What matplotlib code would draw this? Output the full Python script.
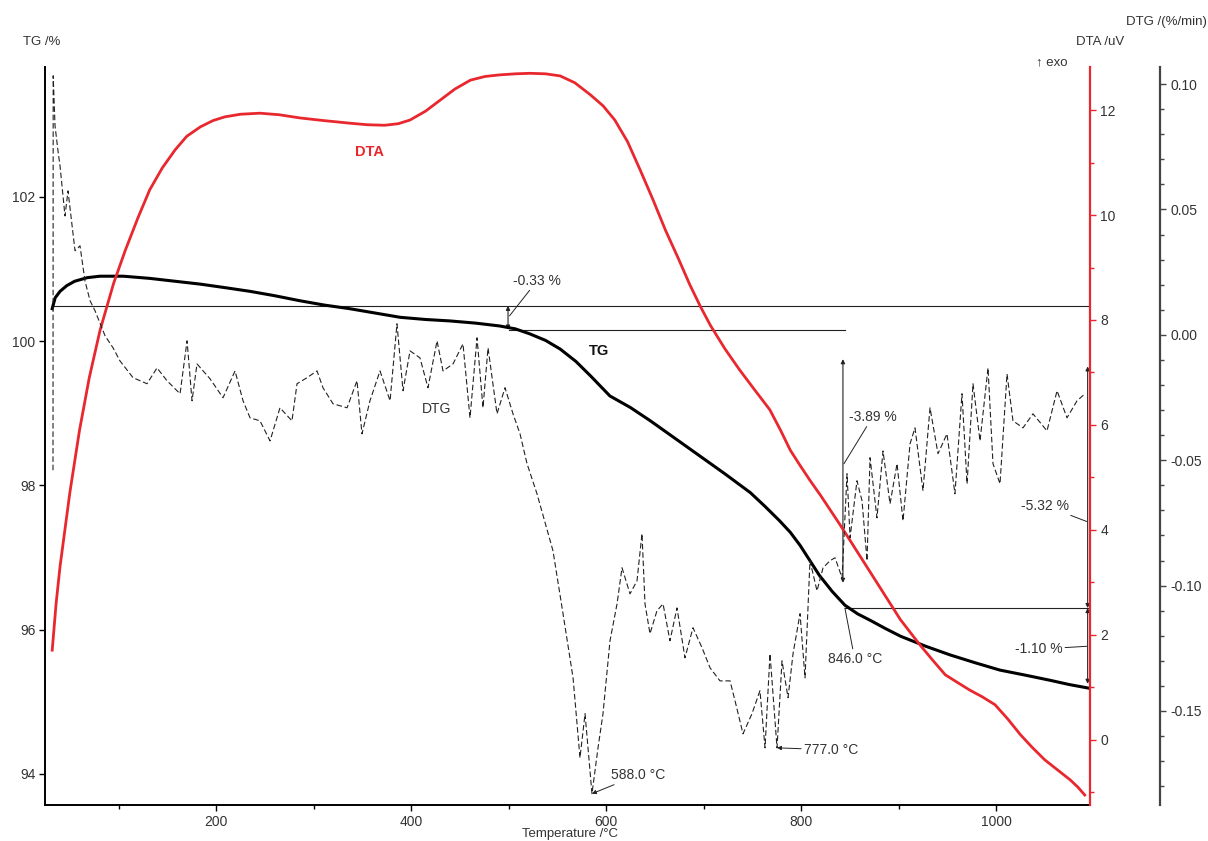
import numpy as np
import matplotlib
matplotlib.use("Agg")
import matplotlib.pyplot as plt
from matplotlib.ticker import MultipleLocator

plt.rcParams['font.family'] = ['Liberation Sans', 'DejaVu Sans']

# ---------------- data ----------------
tg_T = [32, 35, 40, 47, 55, 68, 81, 105, 132, 158, 184, 210, 235, 260, 286, 311, 337, 363,
        389, 415, 440, 466, 491, 507, 522, 538, 553, 569, 584, 594, 604, 625, 645, 670, 696,
        722, 748, 763, 778, 789, 799, 809, 819, 832, 845, 858, 871, 886, 902, 928, 953, 979,
        1004, 1030, 1055, 1075, 1095]
tg_val = [100.45, 100.60, 100.69, 100.77, 100.83, 100.88, 100.90, 100.90, 100.87, 100.83,
          100.79, 100.74, 100.69, 100.63, 100.56, 100.50, 100.45, 100.39, 100.33, 100.30,
          100.28, 100.25, 100.21, 100.17, 100.10, 100.01, 99.89, 99.72, 99.52, 99.38, 99.24,
          99.08, 98.90, 98.66, 98.41, 98.16, 97.90, 97.71, 97.51, 97.35, 97.17, 96.96, 96.75,
          96.53, 96.34, 96.22, 96.13, 96.02, 95.91, 95.77, 95.65, 95.54, 95.44, 95.37, 95.30,
          95.24, 95.19]

dta_T = [32, 36, 40, 45, 50, 60, 70, 81, 95, 107, 120, 132, 145, 158, 170, 184, 197, 209,
         225, 245, 265, 286, 310, 337, 355, 373, 387, 399, 415, 430, 445, 461, 476, 491, 507,
         522, 538, 553, 568, 584, 597, 609, 622, 635, 648, 661, 674, 686, 697, 707, 722, 737,
         752, 768, 779, 789, 799, 809, 820, 830, 840, 850, 863, 876, 889, 902, 912, 922, 935,
         948, 960, 973, 986, 999, 1012, 1025, 1037, 1050, 1063, 1076, 1084, 1091]
dta_val = [1.71, 2.60, 3.30, 4.00, 4.70, 5.90, 6.90, 7.80, 8.70, 9.33, 9.95, 10.48, 10.90,
           11.24, 11.50, 11.68, 11.80, 11.87, 11.92, 11.94, 11.91, 11.85, 11.80, 11.75, 11.72,
           11.71, 11.74, 11.81, 11.98, 12.19, 12.40, 12.57, 12.64, 12.67, 12.69, 12.70, 12.69,
           12.65, 12.52, 12.29, 12.08, 11.81, 11.40, 10.86, 10.30, 9.71, 9.18, 8.67, 8.25,
           7.90, 7.45, 7.05, 6.68, 6.29, 5.90, 5.52, 5.23, 4.95, 4.66, 4.38, 4.10, 3.81, 3.43,
           3.05, 2.67, 2.29, 2.05, 1.81, 1.52, 1.24, 1.10, 0.95, 0.82, 0.67, 0.40, 0.10, -0.14,
           -0.38, -0.57, -0.76, -0.90, -1.05]

dtg_T = [32.8, 33.0, 34.9, 37.9, 40.0, 45.1, 48.2, 55.4, 60.5, 65.6, 70.8, 75.9, 86.2, 94.4,
         101.5, 114.9, 129.2,
         139.5, 149.7, 163.1, 170.3, 175.4, 180.5, 193.8, 207.2, 219.5, 227.7, 234.9, 245.1,
         255.4, 265.6, 277.9, 283.1, 293.3, 303.6, 309.7, 320.0, 334.4, 344.6, 349.7, 357.9,
         368.2, 378.5, 385.6, 391.8, 399.0, 409.2, 417.4, 426.7, 432.8, 443.1, 453.3, 460.5,
         467.7, 473.8, 479.0, 488.2, 496.4, 504.6, 511.8, 519.0, 529.2, 545.6, 555.9, 566.2,
         573.3, 578.5, 585.6, 591.8, 596.9, 604.1, 611.3, 616.4, 624.6, 631.8, 636.9, 640.0,
         645.1, 652.3, 658.5, 665.6, 672.8, 681.0, 689.2, 698.5, 706.7, 716.9, 727.2, 732.3,
         740.5, 749.7, 757.9, 763.1, 768.2, 775.4, 780.5, 786.7, 791.8, 799.0, 804.1, 809.2,
         816.4, 822.6, 829.7, 834.9, 842.1, 847.2, 850.3, 857.4, 862.6, 867.7, 870.8, 877.9,
         884.1, 891.3, 898.5, 904.6, 911.8, 916.9, 925.1, 932.3, 940.5, 949.7, 957.9, 965.1,
         970.3, 976.4, 983.6, 991.8, 996.9, 1004.1, 1011.3, 1017.4, 1027.7, 1037.9, 1052.3,
         1062.6, 1072.8, 1083.1, 1091.3]
dtg_val = [-0.054, 0.1033, 0.0833, 0.0734, 0.0674, 0.0474, 0.0574, 0.0335, 0.0355, 0.0215,
           0.0136, 0.0096, -0.0004, -0.0052,
           -0.0104, -0.0171, -0.0195, -0.0132, -0.0183, -0.0235, -0.0024, -0.0263, -0.0116,
           -0.0175, -0.0251, -0.0144, -0.0263, -0.0331, -0.0343, -0.0423, -0.0291, -0.0343,
           -0.0195, -0.0171, -0.0144, -0.0211, -0.0275, -0.0291, -0.0183, -0.0395, -0.0263,
           -0.0144, -0.0263, 0.0044, -0.0223, -0.0064, -0.0092, -0.0211, -0.0024, -0.0144,
           -0.0116, -0.0036, -0.0331, -0.0012, -0.0291, -0.0052, -0.0315, -0.0211, -0.0315,
           -0.0395, -0.0514, -0.0634, -0.0861, -0.1112, -0.1368, -0.1687, -0.1511, -0.1830,
           -0.1647, -0.1511, -0.1220, -0.1073, -0.0929, -0.1033, -0.0981, -0.0793, -0.1073,
           -0.1192, -0.1100, -0.1073, -0.1220, -0.1089, -0.1288, -0.1168, -0.1248, -0.1328,
           -0.1380, -0.1380, -0.1459, -0.1591, -0.1511, -0.1419, -0.1647, -0.1272, -0.1647,
           -0.1300, -0.1447, -0.1272, -0.1112, -0.1368, -0.0901, -0.1021, -0.0929, -0.0901,
           -0.0889, -0.0969, -0.0554, -0.0809, -0.0582, -0.0662, -0.0901, -0.0490, -0.0730,
           -0.0463, -0.0674, -0.0514, -0.0742, -0.0435, -0.0371, -0.0622, -0.0291, -0.0474,
           -0.0395, -0.0634, -0.0235, -0.0594, -0.0195, -0.0423, -0.0132, -0.0514, -0.0594,
           -0.0156, -0.0343, -0.0371, -0.0315, -0.0383, -0.0223, -0.0331, -0.0263, -0.0235]

# step levels (TG %) and step annotations
level_hi = 100.49
level_mid = 100.16
level_lo = 96.30
steps = ["-0.33 %", "-3.89 %", "-5.32 %", "-1.10 %"]
peaks = ["588.0 °C", "777.0 °C", "846.0 °C"]

x_ticks = [200, 400, 600, 800, 1000]
tg_ticks = [94, 96, 98, 100, 102]
dta_ticks = [0, 2, 4, 6, 8, 10, 12]
dtg_ticks = [-0.15, -0.10, -0.05, 0.00, 0.05, 0.10]

# ---------------- figure ----------------
W, H = 1208, 841
fig = plt.figure(figsize=(W / 100, H / 100), dpi=100)
ax = fig.add_axes([45 / W, 36 / H, 1045 / W, 738 / H])
ax2 = ax.twinx()
ax3 = ax.twinx()

RED = '#e8282e'
TXT = '#333333'
LINE = '#222222'

ax.set_xlim(24.6, 1096.4)
ax.set_ylim(93.57, 103.8)
ax2.set_ylim(-1.24, 12.82)
ax3.set_ylim(-0.1875, 0.1068)

# curves
ax3.plot(dtg_T, dtg_val, color='#222222', lw=0.8, ls=(0, (5, 2.5)))
ax2.plot(dta_T, dta_val, color=RED, lw=2.0)
ax.plot(tg_T, tg_val, color='black', lw=2.2, zorder=5)

# step lines
ax.plot([tg_T[0], 1095], [level_hi, level_hi], color=LINE, lw=0.8)
ax.plot([500, 845], [level_mid, level_mid], color=LINE, lw=0.8)
ax.plot([845, 1095], [level_lo, level_lo], color=LINE, lw=0.8)

arr = dict(arrowstyle='<|-|>', color=LINE, lw=0.8, mutation_scale=6, shrinkA=0, shrinkB=0)
ax.annotate('', xy=(499.5, level_hi), xytext=(499.5, level_mid), arrowprops=arr)
ax.annotate('', xy=(843, 99.75), xytext=(843, 96.65), arrowprops=arr)
ax.annotate('', xy=(1094, 99.65), xytext=(1094, level_lo), arrowprops=arr)
ax.annotate('', xy=(1094, level_lo), xytext=(1094, 95.25), arrowprops=arr)

lead = dict(arrowstyle='-', color=LINE, lw=0.7, shrinkA=0, shrinkB=0)
fs = 10
ax.annotate(steps[0], xy=(501, 100.35), xytext=(505, 100.84), fontsize=fs, color=TXT,
            va='center', ha='left', arrowprops=lead)
ax.annotate(steps[1], xy=(844, 98.3), xytext=(849, 98.95), fontsize=fs, color=TXT,
            va='center', ha='left', arrowprops=lead)
ax.annotate(steps[2], xy=(1093, 97.5), xytext=(1075, 97.72), fontsize=fs, color=TXT,
            va='center', ha='right', arrowprops=lead)
ax.annotate(steps[3], xy=(1093, 95.77), xytext=(1068, 95.73), fontsize=fs, color=TXT,
            va='center', ha='right', arrowprops=lead)

ax.annotate(peaks[2], xy=(845, level_lo), xytext=(855, 95.6), fontsize=fs, color=TXT,
            va='center', ha='center', arrowprops=lead)
ax3.annotate(peaks[0], xy=(585.6, -0.1830), xytext=(605, -0.1755), fontsize=fs, color=TXT,
             va='center', ha='left', arrowprops=dict(arrowstyle='-|>', color=LINE, lw=0.7,
                                                     mutation_scale=6, shrinkA=0, shrinkB=0))
ax3.annotate(peaks[1], xy=(775.4, -0.1647), xytext=(803, -0.1655), fontsize=fs, color=TXT,
             va='center', ha='left', arrowprops=dict(arrowstyle='-|>', color=LINE, lw=0.7,
                                                     mutation_scale=6, shrinkA=0, shrinkB=0))

# curve labels
ax.text(593, 99.87, 'TG', fontsize=10.5, fontweight='bold', color='#111111', ha='center', va='center', zorder=6)
ax2.text(357, 11.2, 'DTA', fontsize=10.5, fontweight='bold', color=RED, ha='center', va='center')
ax3.text(426, -0.0295, 'DTG', fontsize=10, color=TXT, ha='center', va='center')

# spines
for s in ['top', 'right']:
    ax.spines[s].set_visible(False)
for s in ['top', 'left', 'bottom']:
    ax2.spines[s].set_visible(False)
    ax3.spines[s].set_visible(False)
ax2.spines['right'].set_color(RED)
ax2.spines['right'].set_linewidth(1.6)
ax3.spines['right'].set_position(('axes', 1.067))
ax3.spines['right'].set_color('#444444')
ax3.spines['right'].set_linewidth(1.6)
ax.spines['left'].set_linewidth(1.4)
ax.spines['bottom'].set_linewidth(1.4)

ax.set_xticks(x_ticks)
ax.xaxis.set_minor_locator(MultipleLocator(100))
ax.set_yticks(tg_ticks)
ax2.set_yticks(dta_ticks)
ax2.yaxis.set_minor_locator(MultipleLocator(1))
ax3.set_yticks(dtg_ticks)
ax3.set_yticklabels(['%.2f' % v for v in dtg_ticks])
ax3.yaxis.set_minor_locator(MultipleLocator(0.01))

ax.tick_params(axis='both', which='major', labelsize=10, labelcolor=TXT, length=4, width=1, direction='out', pad=3)
ax.tick_params(axis='x', which='minor', length=3, width=1)
ax2.tick_params(axis='y', which='both', colors=RED, labelcolor=TXT, labelsize=10, width=1)
ax2.tick_params(axis='y', which='major', length=4)
ax2.tick_params(axis='y', which='minor', length=3)
ax3.tick_params(axis='y', which='both', colors='#444444', labelcolor=TXT, labelsize=10, width=1)
ax3.tick_params(axis='y', which='major', length=4)
ax3.tick_params(axis='y', which='minor', length=3)

# axis titles
fig.text(42 / W, 1 - 42 / H, 'TG /%', fontsize=9.5, color=TXT, ha='center', va='center')
fig.text(1124 / W, 1 - 42 / H, 'DTA /uV', fontsize=9.5, color=TXT, ha='right', va='center')
fig.text(1067 / W, 1 - 62 / H, '↑ exo', fontsize=9.5, color=TXT, ha='right', va='center',
         family=['Liberation Sans', 'DejaVu Sans'])
fig.text(1207 / W, 1 - 22 / H, 'DTG /(%/min)', fontsize=9.5, color=TXT, ha='right', va='center')
fig.text(570 / W, 1 - 834 / H, 'Temperature /°C', fontsize=9.5, color=TXT, ha='center', va='center')

fig.savefig('out.png', dpi=100, facecolor='white')
